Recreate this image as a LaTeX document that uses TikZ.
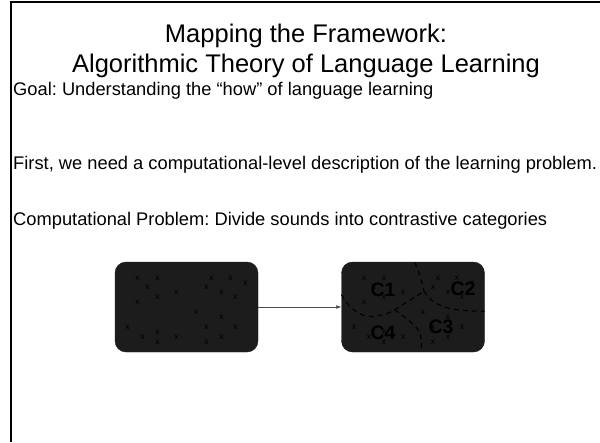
\documentclass[tikz,border=0pt]{standalone}
\usepackage{fontspec}
\setmainfont{Liberation Sans}
\usetikzlibrary{arrows.meta}

\definecolor{slate}{HTML}{1C1C1C}

\begin{document}
\frenchspacing
\begin{tikzpicture}[x=1pt, y=-1pt,
    soundbox/.style={draw=slate, fill=slate, rounded corners=11pt, minimum width=143pt, minimum height=90pt, inner sep=0pt},
    sound/.style={font=\fontsize{8.5}{8.5}\selectfont, text=black, inner sep=0pt},
    catlabel/.style={font=\fontsize{19.5}{19.5}\selectfont\bfseries, text=black, inner sep=0pt},
    boundary/.style={black, line width=1.1pt, dash pattern=on 5pt off 4pt},
    bodytext/.style={anchor=base west, font=\fontsize{18.3}{21}\selectfont, inner sep=0pt}]
    % page and slide frame
    \fill[white] (0,0) rectangle (600,442);
    \useasboundingbox (0,0) rectangle (600,442);
    \draw[line width=2pt] (600,2) -- (11,2) -- (11,442);

    % title and bullet lines
    \node[align=center, font=\fontsize{25.5}{30.5}\selectfont] (title) at (306,51) {Mapping the Framework:\\Algorithmic Theory of Language Learning};
    \node[bodytext] (goal) at (13,95) {Goal: Understanding the “how” of language learning};
    \node[bodytext] (first) at (13,169) {First, we need a computational-level description of the learning problem.};
    \node[bodytext] (problem) at (13,225) {Computational Problem: Divide sounds into contrastive categories};

    % the two sound spaces
    \node[soundbox] (raw) at (186.5,307) {};
    \node[soundbox] (sorted) at (413,307) {};
    \draw[-{Latex[length=5pt,width=4pt]}, line width=0.8pt, black!70] (raw) -- (sorted);

    % same sounds in both boxes
    \foreach \bx in {raw, sorted} {
        \begin{scope}[shift={(\bx.center)}]
            \foreach \p in {(-49,-29), (-29,-29), (-39,-20), (-29,-10), (-49,-5), (-10,-15),
                            (25,-29), (44,-29), (59,-24), (20,-20), (35,-15), (49,-10),
                            (10,5), (35,10), (-59,20), (20,20), (49,20), (-29,25),
                            (-44,30), (-10,30), (-29,35), (20,35), (35,30)}
                \node[sound] at \p {x};
        \end{scope}
    }

    % category boundaries
    \draw[boundary] plot[smooth, tension=0.6] coordinates {(341.5,294.7) (351.3,308) (368,316.3) (388,313) (408,301.3) (424,291.3)};
    \draw[boundary] plot[smooth, tension=0.6] coordinates {(414.7,262.5) (419.7,274.7) (424,291.3)};
    \draw[boundary] plot[smooth, tension=0.6] coordinates {(424,291.3) (433,301.3) (448,308) (468,310.7) (484.5,311.3)};
    \draw[boundary] plot[smooth, tension=0.6] coordinates {(394.7,309.7) (408,319.7) (418,329.7) (421.3,339.7) (420.7,351.5)};

    \begin{scope}[shift={(sorted.center)}]
        \node[catlabel] (c1) at (-30,-17) {C1};
        \node[catlabel] (c2) at (50,-18) {C2};
        \node[catlabel] (c3) at (28,20) {C3};
        \node[catlabel] (c4) at (-30,26) {C4};
    \end{scope}
\end{tikzpicture}
\end{document}
